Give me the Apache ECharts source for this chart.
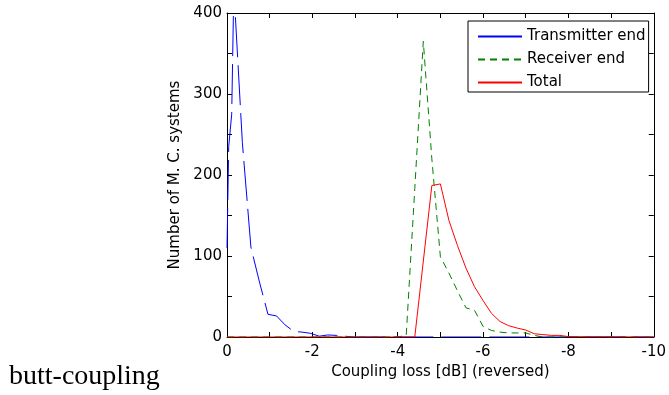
<!DOCTYPE html>
<html><head><meta charset="utf-8">
<script src="https://cdn.jsdelivr.net/npm/echarts@6/dist/echarts.min.js"></script>
<style>html,body{margin:0;padding:0;background:#fff}#c{width:669px;height:395px}</style>
</head><body><div id="c"></div>
<script>
const seriesNames = ['Transmitter end', 'Receiver end', 'Total'];
const txX = [0, -0.04, -0.11, -0.16, -0.36, -0.56, -0.76, -0.96, -1.16, -1.36, -1.56, -1.76, -1.96, -2.16, -2.36, -2.56, -2.76, -2.96, -10];
const txY = [110, 235, 275, 430, 240, 111, 68, 28, 26, 15, 7, 6, 4.5, 1, 2.5, 2, 1, 0, 0];
const rxX = [0, -4.0, -4.2, -4.4, -4.6, -4.8, -5.0, -5.2, -5.4, -5.6, -5.8, -6.0, -6.2, -6.4, -6.6, -6.8, -7.0, -7.2, -7.4, -10];
const rxY = [0, 0, 2, 183, 365, 220, 99, 79, 57, 36, 33, 13, 8, 6, 5, 5, 5, 2, 0, 0];
const totX = [0, -4.4, -4.8, -5.0, -5.2, -5.4, -5.6, -5.8, -6.0, -6.2, -6.4, -6.6, -6.8, -7.0, -7.2, -7.4, -7.6, -7.8, -8.0, -10];
const totY = [0, 0, 187, 189, 144, 113, 85, 62, 45, 29, 19, 14, 11, 8.6, 4, 3, 2, 2, 0.5, 0];
const xLabelTicks = [0, -2, -4, -6, -8, -10];
const yLabelTicks = [0, 100, 200, 300, 400];
const xTitle = 'Coupling loss [dB] (reversed)';
const yTitle = 'Number of M. C. systems';
const sideText = 'butt-coupling';

const FONT = 'DejaVu Sans, sans-serif';
const pairs = (xs, ys) => xs.map((x, i) => [x, ys[i]]);
const near = (v, list) => list.some(t => Math.abs(t - v) < 1e-6);

const baseX = {
  type: 'value', min: -10, max: 0, interval: 1, inverse: true, gridIndex: 0,
  axisLine: { onZero: false, lineStyle: { color: '#000', width: 1 } },
  axisTick: { inside: true, length: 5, lineStyle: { color: '#000', width: 1 } },
  splitLine: { show: false }
};
const baseY = {
  type: 'value', min: 0, max: 400, interval: 50, gridIndex: 0,
  axisLine: { onZero: false, lineStyle: { color: '#000', width: 1 } },
  axisTick: { inside: true, length: 5, lineStyle: { color: '#000', width: 1 } },
  splitLine: { show: false }
};

const chart = echarts.init(document.getElementById('c'), null, { renderer: 'canvas' });
chart.setOption({
  animation: false,
  backgroundColor: '#fff',
  grid: { left: 227, right: 13, top: 13, bottom: 58, containLabel: false },
  xAxis: [
    Object.assign({}, baseX, {
      position: 'bottom',
      axisLabel: { color: '#000', fontSize: 15, fontFamily: FONT, margin: 8,
        formatter: v => near(v, xLabelTicks) ? String(Math.round(v)) : '' },
      name: xTitle, nameLocation: 'middle', nameGap: 25,
      nameTextStyle: { color: '#000', fontSize: 15, fontFamily: FONT }
    }),
    Object.assign({}, baseX, { position: 'top', axisLabel: { show: false } })
  ],
  yAxis: [
    Object.assign({}, baseY, {
      position: 'left',
      axisLabel: { color: '#000', fontSize: 15, fontFamily: FONT, margin: 5,
        formatter: v => near(v, yLabelTicks) ? String(Math.round(v)) : '' },
      name: yTitle, nameLocation: 'middle', nameGap: 41,
      nameTextStyle: { color: '#000', fontSize: 15, fontFamily: FONT }
    }),
    Object.assign({}, baseY, { position: 'right', axisLabel: { show: false } })
  ],
  legend: {
    orient: 'vertical', left: 468, top: 21,
    padding: [8, 3, 2, 9],
    itemWidth: 44, itemHeight: 16, itemGap: 8,
    borderColor: '#000', borderWidth: 1, backgroundColor: '#fff',
    itemStyle: { opacity: 0 },
    textStyle: { color: '#000', fontSize: 15, fontFamily: FONT },
    data: [
      { name: seriesNames[0], lineStyle: { type: 'solid' } },
      { name: seriesNames[1] },
      { name: seriesNames[2] }
    ]
  },
  graphic: [{
    type: 'text', left: 9, top: 363,
    style: { text: sideText, fontSize: 28, fontFamily: 'Liberation Serif, Times New Roman, serif', fill: '#000' }
  }],
  series: [
    { name: seriesNames[0], type: 'line', data: pairs(txX, txY), symbol: 'none', showSymbol: false,
      clip: true, color: '#0000ff', lineStyle: { color: '#0000ff', width: 1, type: [40, 8] } },
    { name: seriesNames[1], type: 'line', data: pairs(rxX, rxY), symbol: 'none', showSymbol: false,
      clip: true, color: '#008000', lineStyle: { color: '#008000', width: 1, type: [7, 5] } },
    { name: seriesNames[2], type: 'line', data: pairs(totX, totY), symbol: 'none', showSymbol: false,
      clip: true, color: '#ff0000', lineStyle: { color: '#ff0000', width: 1, type: 'solid' } }
  ]
});
</script></body></html>
